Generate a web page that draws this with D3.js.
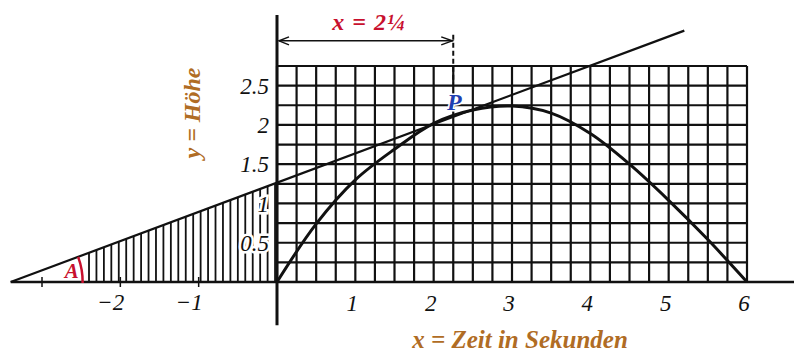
<!DOCTYPE html>
<html>
<head>
<meta charset="utf-8">
<script src="https://cdn.jsdelivr.net/npm/d3@7"></script>
<style>
  body { margin: 0; background: #fff; }
  svg { display: block; }
</style>
</head>
<body>
<div id="chart"></div>
<script>
// Wurfparabel mit Tangente im Punkt P (x = 2 1/4)

const curveX = [0, 0.5, 1, 1.5, 2, 2.5, 3, 3.5, 4, 4.5, 5, 5.5, 6];
const curveY = [0, 0.74, 1.3, 1.69, 2.02, 2.19, 2.24, 2.15, 1.89, 1.5, 1.04, 0.54, 0];

const tangentX = [-3.4, 5.2];
const tangentY = [0, 3.2];

const pointX = 2.25;
const hatchStart = -2.4;

const yTicks = [0.5, 1, 1.5, 2, 2.5];
const yTickLabels = ["0.5", "1", "1.5", "2", "2.5"];
const xTicks = [1, 2, 3, 4, 5, 6];
const xTickLabels = ["1", "2", "3", "4", "5", "6"];
const xNegTicks = [-3, -2, -1];
const xNegLabels = ["", "−2", "−1"];

const width = 796, height = 356;
const ink = "#111";
const brown = "#b06c24";
const red = "#c8102e";
const blue = "#1f3fb0";
const serif = "'Liberation Serif', 'DejaVu Serif', serif";

const svg = d3.select("#chart")
  .append("svg")
  .attr("width", width)
  .attr("height", height);

// Scales (same unit length on both axes)
const x = d3.scaleLinear().domain([0, 6]).range([277, 747]);
const y = d3.scaleLinear().domain([0, 2.75]).range([282, 66]);

const tangentAt = v => tangentY[0] + (v - tangentX[0]) * (tangentY[1] - tangentY[0]) / (tangentX[1] - tangentX[0]);

// Grid
const gridX = d3.range(0, 6.001, 0.25);
const gridY = d3.range(0, 2.751, 0.25);

svg.append("g")
  .selectAll("line")
  .data(gridX)
  .enter()
  .append("line")
  .attr("x1", d => x(d)).attr("x2", d => x(d))
  .attr("y1", y(0)).attr("y2", y(2.75))
  .attr("stroke", ink)
  .attr("stroke-width", 2.2);

svg.append("g")
  .selectAll("line")
  .data(gridY)
  .enter()
  .append("line")
  .attr("x1", x(0)).attr("x2", x(6))
  .attr("y1", d => y(d)).attr("y2", d => y(d))
  .attr("stroke", ink)
  .attr("stroke-width", 2.2);

// Hatching under the tangent, left of the y axis
svg.append("g")
  .selectAll("line")
  .data(d3.range(hatchStart, -0.02, 0.095))
  .enter()
  .append("line")
  .attr("x1", d => x(d)).attr("x2", d => x(d))
  .attr("y1", y(0)).attr("y2", d => y(tangentAt(d)))
  .attr("stroke", ink)
  .attr("stroke-width", 1.8);

// Axes
svg.append("line")
  .attr("x1", x(-3.4)).attr("x2", x(6.6))
  .attr("y1", y(0)).attr("y2", y(0))
  .attr("stroke", ink)
  .attr("stroke-width", 2.5);

svg.append("line")
  .attr("x1", x(0)).attr("x2", x(0))
  .attr("y1", y(3.4)).attr("y2", y(-0.55))
  .attr("stroke", ink)
  .attr("stroke-width", 3);

svg.append("g")
  .selectAll("line")
  .data(xNegTicks)
  .enter()
  .append("line")
  .attr("x1", d => x(d)).attr("x2", d => x(d))
  .attr("y1", y(0) - 5).attr("y2", y(0) + 5)
  .attr("stroke", ink)
  .attr("stroke-width", 1.5);

// Tangent line
svg.append("line")
  .attr("x1", x(tangentX[0])).attr("y1", y(tangentY[0]))
  .attr("x2", x(tangentX[1])).attr("y2", y(tangentY[1]))
  .attr("stroke", ink)
  .attr("stroke-width", 2.2);

// Parabola
const line = d3.line()
  .x(d => x(d[0]))
  .y(d => y(d[1]))
  .curve(d3.curveCatmullRom);

svg.append("path")
  .datum(curveX.map((v, i) => [v, curveY[i]]))
  .attr("d", line)
  .attr("fill", "none")
  .attr("stroke", ink)
  .attr("stroke-width", 3);

// Angle A
const vx = x(tangentX[0]), vy = y(0);
const r = 72;
const ang = Math.atan2(y(0) - y(tangentAt(0)), x(0) - x(tangentX[0]));
svg.append("path")
  .attr("d", `M${vx + r},${vy + 1} A${r},${r} 0 0 0 ${vx + r * Math.cos(ang)},${vy - r * Math.sin(ang)}`)
  .attr("fill", "none")
  .attr("stroke", red)
  .attr("stroke-width", 2.5);

svg.append("text")
  .attr("x", vx + 61).attr("y", vy - 4)
  .attr("text-anchor", "middle")
  .style("font-family", serif)
  .style("font-style", "italic")
  .style("font-weight", "bold")
  .style("font-size", "21px")
  .style("fill", red)
  .text("A");

// Arrow x = 2 1/4 and dashed guide
const arrowY = y(3.07);
svg.append("line")
  .attr("x1", x(0) + 2).attr("x2", x(pointX))
  .attr("y1", arrowY).attr("y2", arrowY)
  .attr("stroke", ink)
  .attr("stroke-width", 1.5);

svg.append("path")
  .attr("d", `M${x(0) + 12},${arrowY - 4} L${x(0) + 2},${arrowY} L${x(0) + 12},${arrowY + 4}`)
  .attr("fill", "none").attr("stroke", ink).attr("stroke-width", 1.5);

svg.append("path")
  .attr("d", `M${x(pointX) - 12},${arrowY - 4} L${x(pointX) - 1},${arrowY} L${x(pointX) - 12},${arrowY + 4}`)
  .attr("fill", "none").attr("stroke", ink).attr("stroke-width", 1.5);

svg.append("line")
  .attr("x1", x(pointX)).attr("x2", x(pointX))
  .attr("y1", arrowY - 6).attr("y2", y(2.53))
  .attr("stroke", ink)
  .attr("stroke-width", 2)
  .attr("stroke-dasharray", "5,3");

svg.append("text")
  .attr("x", (x(0) + x(pointX)) / 2 + 4).attr("y", arrowY - 11)
  .attr("text-anchor", "middle")
  .style("font-family", serif)
  .style("font-style", "italic")
  .style("font-weight", "bold")
  .style("font-size", "24px")
  .style("letter-spacing", "1px")
  .style("fill", red)
  .text("x = 2¼");

// Point label P
svg.append("text")
  .attr("x", x(pointX) + 1).attr("y", y(tangentAt(pointX)) - 7)
  .attr("text-anchor", "middle")
  .style("font-family", serif)
  .style("font-style", "italic")
  .style("font-weight", "bold")
  .style("font-size", "24px")
  .style("fill", blue)
  .style("paint-order", "stroke")
  .style("stroke", "#fff")
  .style("stroke-width", "3px")
  .text("P");

// Tick labels
const tickStyle = sel => sel
  .style("font-family", serif)
  .style("font-style", "italic")
  .style("font-size", "23px")
  .style("fill", ink);

svg.append("g")
  .selectAll("text")
  .data(yTicks)
  .enter()
  .append("text")
  .attr("x", x(0) - 8)
  .attr("y", d => y(d))
  .attr("dy", "0.35em")
  .attr("text-anchor", "end")
  .style("paint-order", "stroke")
  .style("stroke", "#fff")
  .style("stroke-width", "5px")
  .call(tickStyle)
  .text((d, i) => yTickLabels[i]);

svg.append("g")
  .selectAll("text")
  .data(xTicks)
  .enter()
  .append("text")
  .attr("x", d => x(d) - 3)
  .attr("y", y(0) + 29)
  .attr("text-anchor", "middle")
  .call(tickStyle)
  .text((d, i) => xTickLabels[i]);

svg.append("g")
  .selectAll("text")
  .data(xNegTicks)
  .enter()
  .append("text")
  .attr("x", d => x(d) + 4)
  .attr("y", y(0) + 28)
  .attr("text-anchor", "end")
  .call(tickStyle)
  .text((d, i) => xNegLabels[i]);

// Axis titles
svg.append("text")
  .attr("transform", `translate(200, 113) rotate(-90)`)
  .attr("text-anchor", "middle")
  .style("font-family", serif)
  .style("font-style", "italic")
  .style("font-weight", "bold")
  .style("font-size", "24px")
  .style("fill", brown)
  .text("y = Höhe");

svg.append("text")
  .attr("x", 520).attr("y", 348)
  .attr("text-anchor", "middle")
  .style("font-family", serif)
  .style("font-style", "italic")
  .style("font-weight", "bold")
  .style("font-size", "25px")
  .style("fill", brown)
  .text("x = Zeit in Sekunden");
</script>
</body>
</html>
